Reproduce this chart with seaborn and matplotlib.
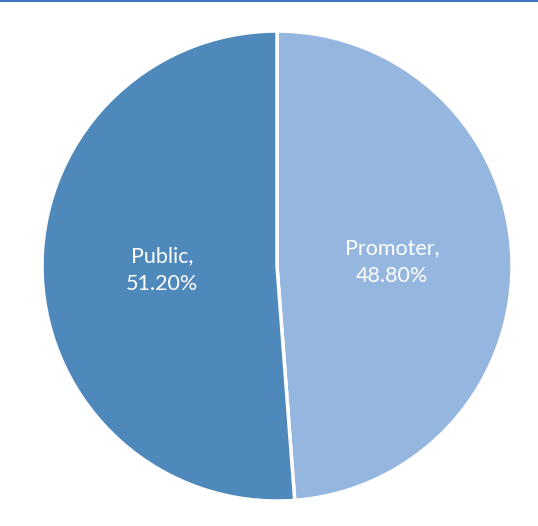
import matplotlib
matplotlib.use("Agg")
import matplotlib.pyplot as plt
import seaborn as sns
from matplotlib.lines import Line2D

categories = ["Promoter", "Public"]
shares = [48.80, 51.20]
colors = ["#95B7DF", "#4F88BB"]

sns.set_theme(style="white")
plt.rcParams["font.family"] = ["Lato", "DejaVu Sans"]

fig = plt.figure(figsize=(5.38, 5.26), dpi=100)
ax = fig.add_axes([0.0781, 0.0475, 0.8736, 0.8935])

labels = [f"{c},\n{v:.2f}%" for c, v in zip(categories, shares)]
wedges, texts = ax.pie(
    shares, labels=labels, colors=colors, startangle=90, counterclock=False,
    labeldistance=0.49,
    wedgeprops=dict(edgecolor="white", linewidth=2.5),
    textprops=dict(color="white", fontsize=15.5),
)
for t in texts:
    t.set_ha("center")
    t.set_va("center")
    t.set_linespacing(1.5)
ax.set_aspect("equal")
ax.set_xlim(-1.0, 1.0)
ax.set_ylim(-1.0, 1.0)
ax.axis("off")

fig.add_artist(Line2D([0, 1], [0.998, 0.998], transform=fig.transFigure,
                      color="#4472C4", linewidth=1.5))

fig.savefig("out.png", dpi=100)
